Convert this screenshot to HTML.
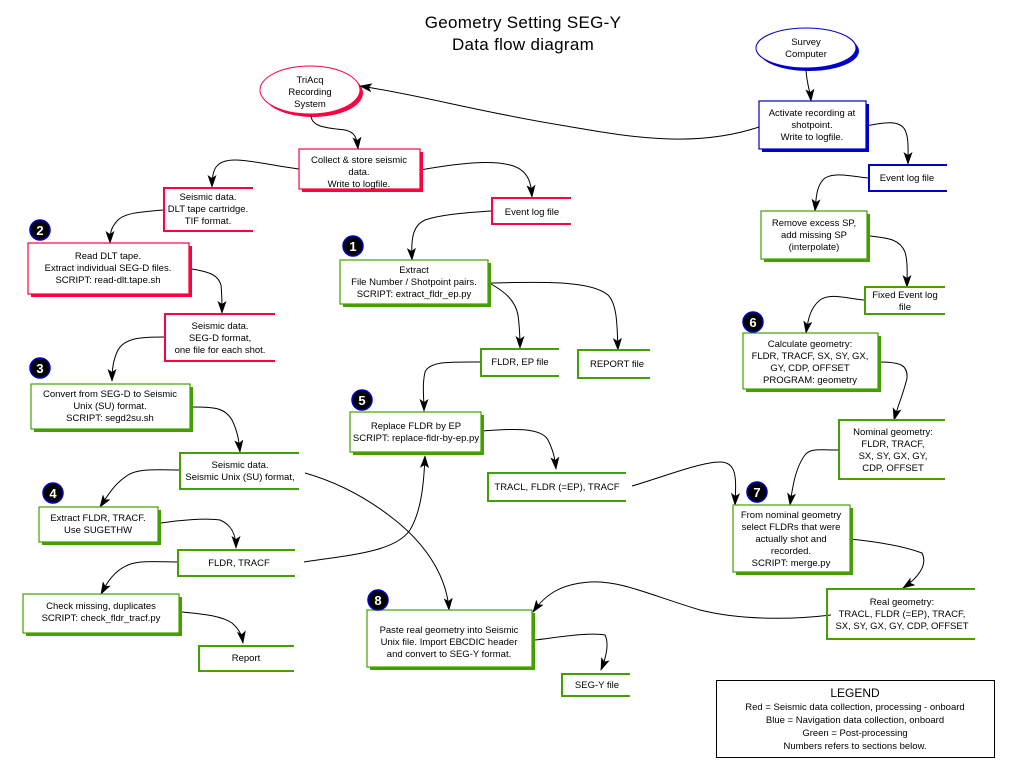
<!DOCTYPE html>
<html><head><meta charset="utf-8"><style>
html,body{margin:0;padding:0;background:#fff;width:1014px;height:776px;overflow:hidden}
svg{display:block}
text{font-family:"Liberation Sans",Arial,sans-serif;font-size:9.5px;fill:#000;text-anchor:middle}
.c{fill:none;stroke:#000;stroke-width:1}
</style></head><body>
<svg width="1014" height="776" viewBox="0 0 1014 776" xmlns="http://www.w3.org/2000/svg">
<defs>
<marker id="a" markerWidth="13" markerHeight="9" refX="12" refY="4.5" orient="auto" markerUnits="userSpaceOnUse">
<path d="M0,0 L13,4.5 L0,9 L3,4.5 Z" fill="#000"/></marker>
</defs>
<text x="523" y="28" style="font-size:17px;letter-spacing:0.3px">Geometry Setting SEG-Y</text>
<text x="523" y="50" style="font-size:17px;letter-spacing:0.3px">Data flow diagram</text>

<!-- ellipses -->
<ellipse cx="313" cy="93" rx="50" ry="24" fill="#ff0040"/>
<ellipse cx="310" cy="90" rx="50" ry="24" fill="#fff" stroke="#ff0040" stroke-width="1"/>
<text x="310" y="83">TriAcq</text><text x="310" y="95">Recording</text><text x="310" y="107">System</text>
<ellipse cx="809" cy="51" rx="50" ry="20" fill="#0000cc"/>
<ellipse cx="806" cy="48" rx="50" ry="20" fill="#fff" stroke="#0000cc" stroke-width="1"/>
<text x="806" y="45">Survey</text><text x="806" y="57">Computer</text>

<!-- connectors -->
<g class="c">
<path marker-end="url(#a)" d="M311,115 C311,128 330,128 345,130 C355,132 357,138 358,149"/>
<path marker-end="url(#a)" d="M806,70 C807,85 810,90 811,101"/>
<path marker-end="url(#a)" d="M759,127 C690,150 620,135 560,125 C480,112 420,95 360,86"/>
<path marker-end="url(#a)" d="M866,126 C885,122 900,120 905,130 C909,138 908,150 908,164"/>
<path marker-end="url(#a)" d="M299,169 C270,165 250,160 235,160 C215,160 212,170 212,187"/>
<path marker-end="url(#a)" d="M420,170 C460,163 490,160 510,165 C530,170 531,185 532,197"/>
<path marker-end="url(#a)" d="M163,210 C140,212 125,213 118,220 C110,228 110,235 110,243"/>
<path marker-end="url(#a)" d="M192,269 C210,272 218,275 221,285 C222,295 222,305 222,313"/>
<path marker-end="url(#a)" d="M491,211 C460,213 440,215 425,220 C412,226 411,240 412,260"/>
<path marker-end="url(#a)" d="M491,284 C505,292 515,300 518,315 C520,330 520,340 520,348"/>
<path marker-end="url(#a)" d="M491,283 C540,282 590,280 608,295 C618,305 617,330 618,350"/>
<path marker-end="url(#a)" d="M868,178 C850,176 835,172 825,178 C816,185 816,200 815,211"/>
<path marker-end="url(#a)" d="M870,236 C890,238 900,240 905,252 C908,262 907,275 907,287"/>
<path marker-end="url(#a)" d="M864,300 C845,298 830,293 820,300 C810,308 808,320 806,333"/>
<path marker-end="url(#a)" d="M164,337 C140,337 125,338 118,350 C113,360 112,370 112,381"/>
<path marker-end="url(#a)" d="M480,362 C450,362 430,361 425,372 C422,385 424,398 424,411"/>
<path marker-end="url(#a)" d="M880,362 C900,362 908,365 907,378 C904,392 898,405 894,420"/>
<path marker-end="url(#a)" d="M193,407 C215,407 225,408 232,420 C238,432 239,442 240,452"/>
<path marker-end="url(#a)" d="M481,431 C500,430 540,425 548,440 C553,450 555,458 556,469"/>
<path marker-end="url(#a)" d="M838,450 C820,450 810,448 805,455 C795,468 792,490 790,505"/>
<path marker-end="url(#a)" d="M632,486 C660,478 700,462 720,462 C738,462 736,480 735,505"/>
<path marker-end="url(#a)" d="M179,470 C160,470 140,468 128,475 C115,483 108,495 100,507"/>
<path marker-end="url(#a)" d="M305,473 C340,483 370,500 395,520 C430,548 447,580 449,610"/>
<path marker-end="url(#a)" d="M161,523 C180,520 205,518 220,520 C232,525 236,535 236,548"/>
<path marker-end="url(#a)" d="M304,562 C350,555 395,552 410,530 C422,510 424,480 425,456"/>
<path marker-end="url(#a)" d="M177,562 C160,562 140,560 128,565 C112,572 106,585 101,594"/>
<path marker-end="url(#a)" d="M182,612 C200,614 220,615 232,623 C240,630 242,636 243,643"/>
<path marker-end="url(#a)" d="M850,539 C870,541 900,545 922,553 C928,565 918,578 903,588"/>
<path marker-end="url(#a)" d="M831,615 C790,620 740,620 700,610 C650,595 620,580 590,582 C560,584 545,595 533,612"/>
<path marker-end="url(#a)" d="M535,640 C560,637 590,632 605,635 C610,645 605,660 601,670"/>
</g>

<!-- process boxes -->
<g stroke-width="1.2">
<rect x="302" y="152" width="121" height="40" fill="#ff0040"/><rect x="299" y="149" width="121" height="40" fill="#fff" stroke="#ff0040"/>
<rect x="762" y="104" width="107" height="48" fill="#0000cc"/><rect x="759" y="101" width="107" height="48" fill="#fff" stroke="#0000cc"/>
<rect x="31" y="246" width="161" height="51" fill="#ff0040"/><rect x="28" y="243" width="161" height="51" fill="#fff" stroke="#ff0040"/>
<rect x="343" y="263" width="148" height="44" fill="#44a000"/><rect x="340" y="260" width="148" height="44" fill="#fff" stroke="#44a000"/>
<rect x="764" y="214" width="106" height="48" fill="#44a000"/><rect x="761" y="211" width="106" height="48" fill="#fff" stroke="#44a000"/>
<rect x="746" y="336" width="135" height="56" fill="#44a000"/><rect x="743" y="333" width="135" height="56" fill="#fff" stroke="#44a000"/>
<rect x="34" y="387" width="159" height="45" fill="#44a000"/><rect x="31" y="384" width="159" height="45" fill="#fff" stroke="#44a000"/>
<rect x="353" y="415" width="131" height="40" fill="#44a000"/><rect x="350" y="412" width="131" height="40" fill="#fff" stroke="#44a000"/>
<rect x="42" y="510" width="119" height="35" fill="#44a000"/><rect x="39" y="507" width="119" height="35" fill="#fff" stroke="#44a000"/>
<rect x="736" y="508" width="117" height="67" fill="#44a000"/><rect x="733" y="505" width="117" height="67" fill="#fff" stroke="#44a000"/>
<rect x="26" y="597" width="156" height="39" fill="#44a000"/><rect x="23" y="594" width="156" height="39" fill="#fff" stroke="#44a000"/>
<rect x="370" y="613" width="165" height="57" fill="#44a000"/><rect x="367" y="610" width="165" height="57" fill="#fff" stroke="#44a000"/>
</g>
<text x="359" y="163">Collect &amp; store seismic</text><text x="359" y="175">data.</text><text x="359" y="187">Write to logfile.</text>
<text x="812" y="116">Activate recording at</text><text x="812" y="128">shotpoint.</text><text x="812" y="140">Write to logfile.</text>
<text x="108" y="259">Read DLT tape.</text><text x="108" y="271">Extract individual SEG-D files.</text><text x="108" y="283">SCRIPT: read-dlt.tape.sh</text>
<text x="414" y="273">Extract</text><text x="414" y="285">File Number / Shotpoint pairs.</text><text x="414" y="297">SCRIPT: extract_fldr_ep.py</text>
<text x="814" y="226">Remove excess SP,</text><text x="814" y="238">add missing SP</text><text x="814" y="250">(interpolate)</text>
<text x="810" y="347">Calculate geometry:</text><text x="810" y="359">FLDR, TRACF, SX, SY, GX,</text><text x="810" y="371">GY, CDP, OFFSET</text><text x="810" y="383">PROGRAM: geometry</text>
<text x="110" y="397">Convert from SEG-D to Seismic</text><text x="110" y="409">Unix (SU) format.</text><text x="110" y="421">SCRIPT: segd2su.sh</text>
<text x="416" y="429">Replace FLDR by EP</text><text x="416" y="441">SCRIPT: replace-fldr-by-ep.py</text>
<text x="98" y="521">Extract FLDR, TRACF.</text><text x="98" y="533">Use SUGETHW</text>
<text x="791" y="518">From nominal geometry</text><text x="791" y="530">select FLDRs that were</text><text x="791" y="542">actually shot and</text><text x="791" y="554">recorded.</text><text x="791" y="566">SCRIPT: merge.py</text>
<text x="101" y="609">Check missing, duplicates</text><text x="101" y="621">SCRIPT: check_fldr_tracf.py</text>
<text x="449" y="633">Paste real geometry into Seismic</text><text x="449" y="645">Unix file. Import EBCDIC header</text><text x="449" y="657">and convert to SEG-Y format.</text>

<!-- data boxes -->
<g fill="none" stroke-width="2">
<path stroke="#ff0040" d="M253,188 H164 V231 H253"/>
<path stroke="#ff0040" d="M571,198 H492 V224 H571"/>
<path stroke="#0000cc" d="M947,165 H869 V191 H947"/>
<path stroke="#ff0040" d="M275,314 H165 V361 H275"/>
<path stroke="#44a000" d="M559,349 H481 V376 H559"/>
<path stroke="#44a000" d="M650,350 H578 V378 H650"/>
<path stroke="#44a000" d="M945,287 H865 V314 H945"/>
<path stroke="#44a000" d="M945,420 H839 V479 H945"/>
<path stroke="#44a000" d="M299,453 H180 V489 H299"/>
<path stroke="#44a000" d="M626,473 H488 V501 H626"/>
<path stroke="#44a000" d="M295,550 H178 V576 H295"/>
<path stroke="#44a000" d="M975,589 H827 V639 H975"/>
<path stroke="#44a000" d="M294,646 H199 V671 H294"/>
<path stroke="#44a000" d="M630,674 H562 V696 H630"/>
</g>
<text x="208" y="200">Seismic data.</text><text x="208" y="212">DLT tape cartridge.</text><text x="208" y="224">TIF format.</text>
<text x="532" y="215">Event log file</text>
<text x="907" y="181">Event log file</text>
<text x="220" y="329">Seismic data.</text><text x="220" y="341">SEG-D format,</text><text x="220" y="353">one file for each shot.</text>
<text x="520" y="365">FLDR, EP file</text>
<text x="617" y="367">REPORT file</text>
<text x="905" y="298">Fixed Event log</text><text x="905" y="310">file</text>
<text x="893" y="435">Nominal geometry:</text><text x="893" y="447">FLDR, TRACF,</text><text x="893" y="459">SX, SY, GX, GY,</text><text x="893" y="471">CDP, OFFSET</text>
<text x="240" y="468">Seismic data.</text><text x="240" y="480">Seismic Unix (SU) format,</text>
<text x="557" y="490">TRACL, FLDR (=EP), TRACF</text>
<text x="239" y="566">FLDR, TRACF</text>
<text x="902" y="605">Real geometry:</text><text x="902" y="617">TRACL, FLDR (=EP), TRACF,</text><text x="902" y="629">SX, SY, GX, GY, CDP, OFFSET</text>
<text x="246" y="661">Report</text>
<text x="597" y="688">SEG-Y file</text>

<!-- badges -->
<g stroke="#0000cc" stroke-width="1.5" fill="#000">
<circle cx="40" cy="230" r="10"/><circle cx="353" cy="246" r="10"/><circle cx="40" cy="368" r="10"/>
<circle cx="362" cy="400" r="10"/><circle cx="753" cy="322" r="10"/><circle cx="53" cy="493" r="10"/>
<circle cx="757" cy="492" r="10"/><circle cx="378" cy="600" r="10"/>
</g>
<g style="font-weight:bold;font-size:13px">
<text x="40" y="235" style="fill:#fff;font-size:13px">2</text><text x="353" y="251" style="fill:#fff;font-size:13px">1</text>
<text x="40" y="373" style="fill:#fff;font-size:13px">3</text><text x="362" y="405" style="fill:#fff;font-size:13px">5</text>
<text x="753" y="327" style="fill:#fff;font-size:13px">6</text><text x="53" y="498" style="fill:#fff;font-size:13px">4</text>
<text x="757" y="497" style="fill:#fff;font-size:13px">7</text><text x="378" y="605" style="fill:#fff;font-size:13px">8</text>
</g>

<!-- legend -->
<rect x="716.5" y="680.5" width="278" height="77" fill="none" stroke="#000" stroke-width="1"/>
<text x="855" y="697" style="font-size:12px">LEGEND</text>
<text x="855" y="710" style="font-size:9.5px">Red = Seismic data collection, processing - onboard</text>
<text x="855" y="723" style="font-size:9.5px">Blue = Navigation data collection, onboard</text>
<text x="855" y="736" style="font-size:9.5px">Green = Post-processing</text>
<text x="855" y="749" style="font-size:9.5px">Numbers refers to sections below.</text>
</svg>
</body></html>
